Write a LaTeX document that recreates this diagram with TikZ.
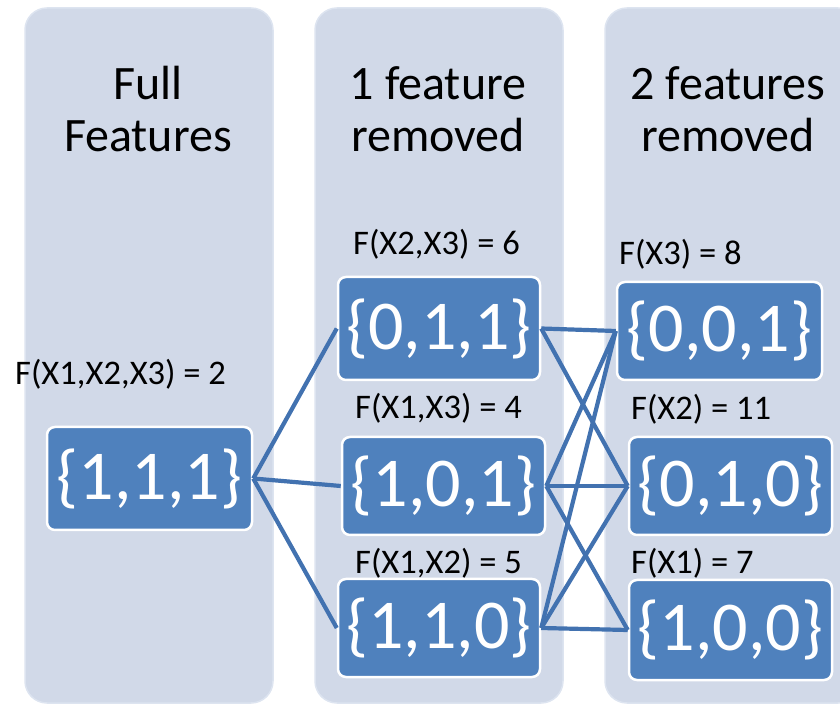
\documentclass[tikz,border=0pt]{standalone}
\usepackage{fontspec}
\setmainfont{Carlito}
\usepackage{tikz}
\usetikzlibrary{positioning}
\definecolor{panelgray}{RGB}{209,217,232}
\definecolor{paneledge}{RGB}{221,228,240}
\definecolor{setblue}{RGB}{79,129,189}
\definecolor{linkblue}{RGB}{66,114,176}

\begin{document}
\begin{tikzpicture}[x=1pt,y=1pt,
	panel/.style={fill=panelgray,draw=paneledge,line width=1.5pt,rounded corners=22pt},
	setbox/.style={rectangle,fill=setblue,draw=white,line width=2.5pt,rounded corners=8pt,text=white,inner sep=0pt,font=\fontsize{70}{80}\selectfont},
	title/.style={align=center,anchor=base,inner sep=0pt,font=\fontsize{48}{52}\selectfont},
	score/.style={anchor=base west,inner sep=0pt,font=\fontsize{34.5}{38}\selectfont},
	link/.style={linkblue,line width=4.2pt}]
	\clip (0,0) rectangle (840,704);

	\draw[panel] (25,696) rectangle (273,1);
	\draw[panel] (315,696) rectangle (563,1);
	\draw[panel] (605,696) rectangle (860,1);

	\node[title] (tfull) at (148,552) {Full\\Features};
	\node[title] (tone) at (438,552) {1 feature\\removed};
	\node[title] (ttwo) at (728,552) {2 features\\removed};

	\node[setbox,minimum width=205pt,minimum height=103pt] (s111) at (149.5,225.5) {\{1,1,1\}};
	\node[setbox,minimum width=202pt,minimum height=103pt] (s011) at (439,375.5) {\{0,1,1\}};
	\node[setbox,minimum width=203pt,minimum height=98pt] (s101) at (443.5,218) {\{1,0,1\}};
	\node[setbox,minimum width=202pt,minimum height=98pt] (s110) at (439,76) {\{1,1,0\}};
	\node[setbox,minimum width=205pt,minimum height=98pt] (s001) at (719.5,373) {\{0,0,1\}};
	\node[setbox,minimum width=203pt,minimum height=98pt] (s010) at (730.5,218) {\{0,1,0\}};
	\node[setbox,minimum width=203pt,minimum height=100pt] (s100) at (730.5,74) {\{1,0,0\}};

	\node[score] (f111) at (15,319) {F(X1,X2,X3) = 2};
	\node[score] (f011) at (353,449) {F(X2,X3) = 6};
	\node[score] (f101) at (355,285) {F(X1,X3) = 4};
	\node[score] (f110) at (355,130) {F(X1,X2) = 5};
	\node[score] (f001) at (619,439) {F(X3) = 8};
	\node[score] (f010) at (631,284) {F(X2) = 11};
	\node[score] (f100) at (631,130) {F(X1) = 7};

	\draw[link] (s111.east) -- (s011.west);
	\draw[link] (s111.east) -- (s101.west);
	\draw[link] (s111.east) -- (s110.west);
	\draw[link] (s011.east) -- (s001.west);
	\draw[link] (s011.east) -- (s010.west);
	\draw[link] (s101.east) -- (s001.west);
	\draw[link] (s101.east) -- (s010.west);
	\draw[link] (s101.east) -- (s100.west);
	\draw[link] (s110.east) -- (s001.west);
	\draw[link] (s110.east) -- (s010.west);
	\draw[link] (s110.east) -- (s100.west);
\end{tikzpicture}
\end{document}
